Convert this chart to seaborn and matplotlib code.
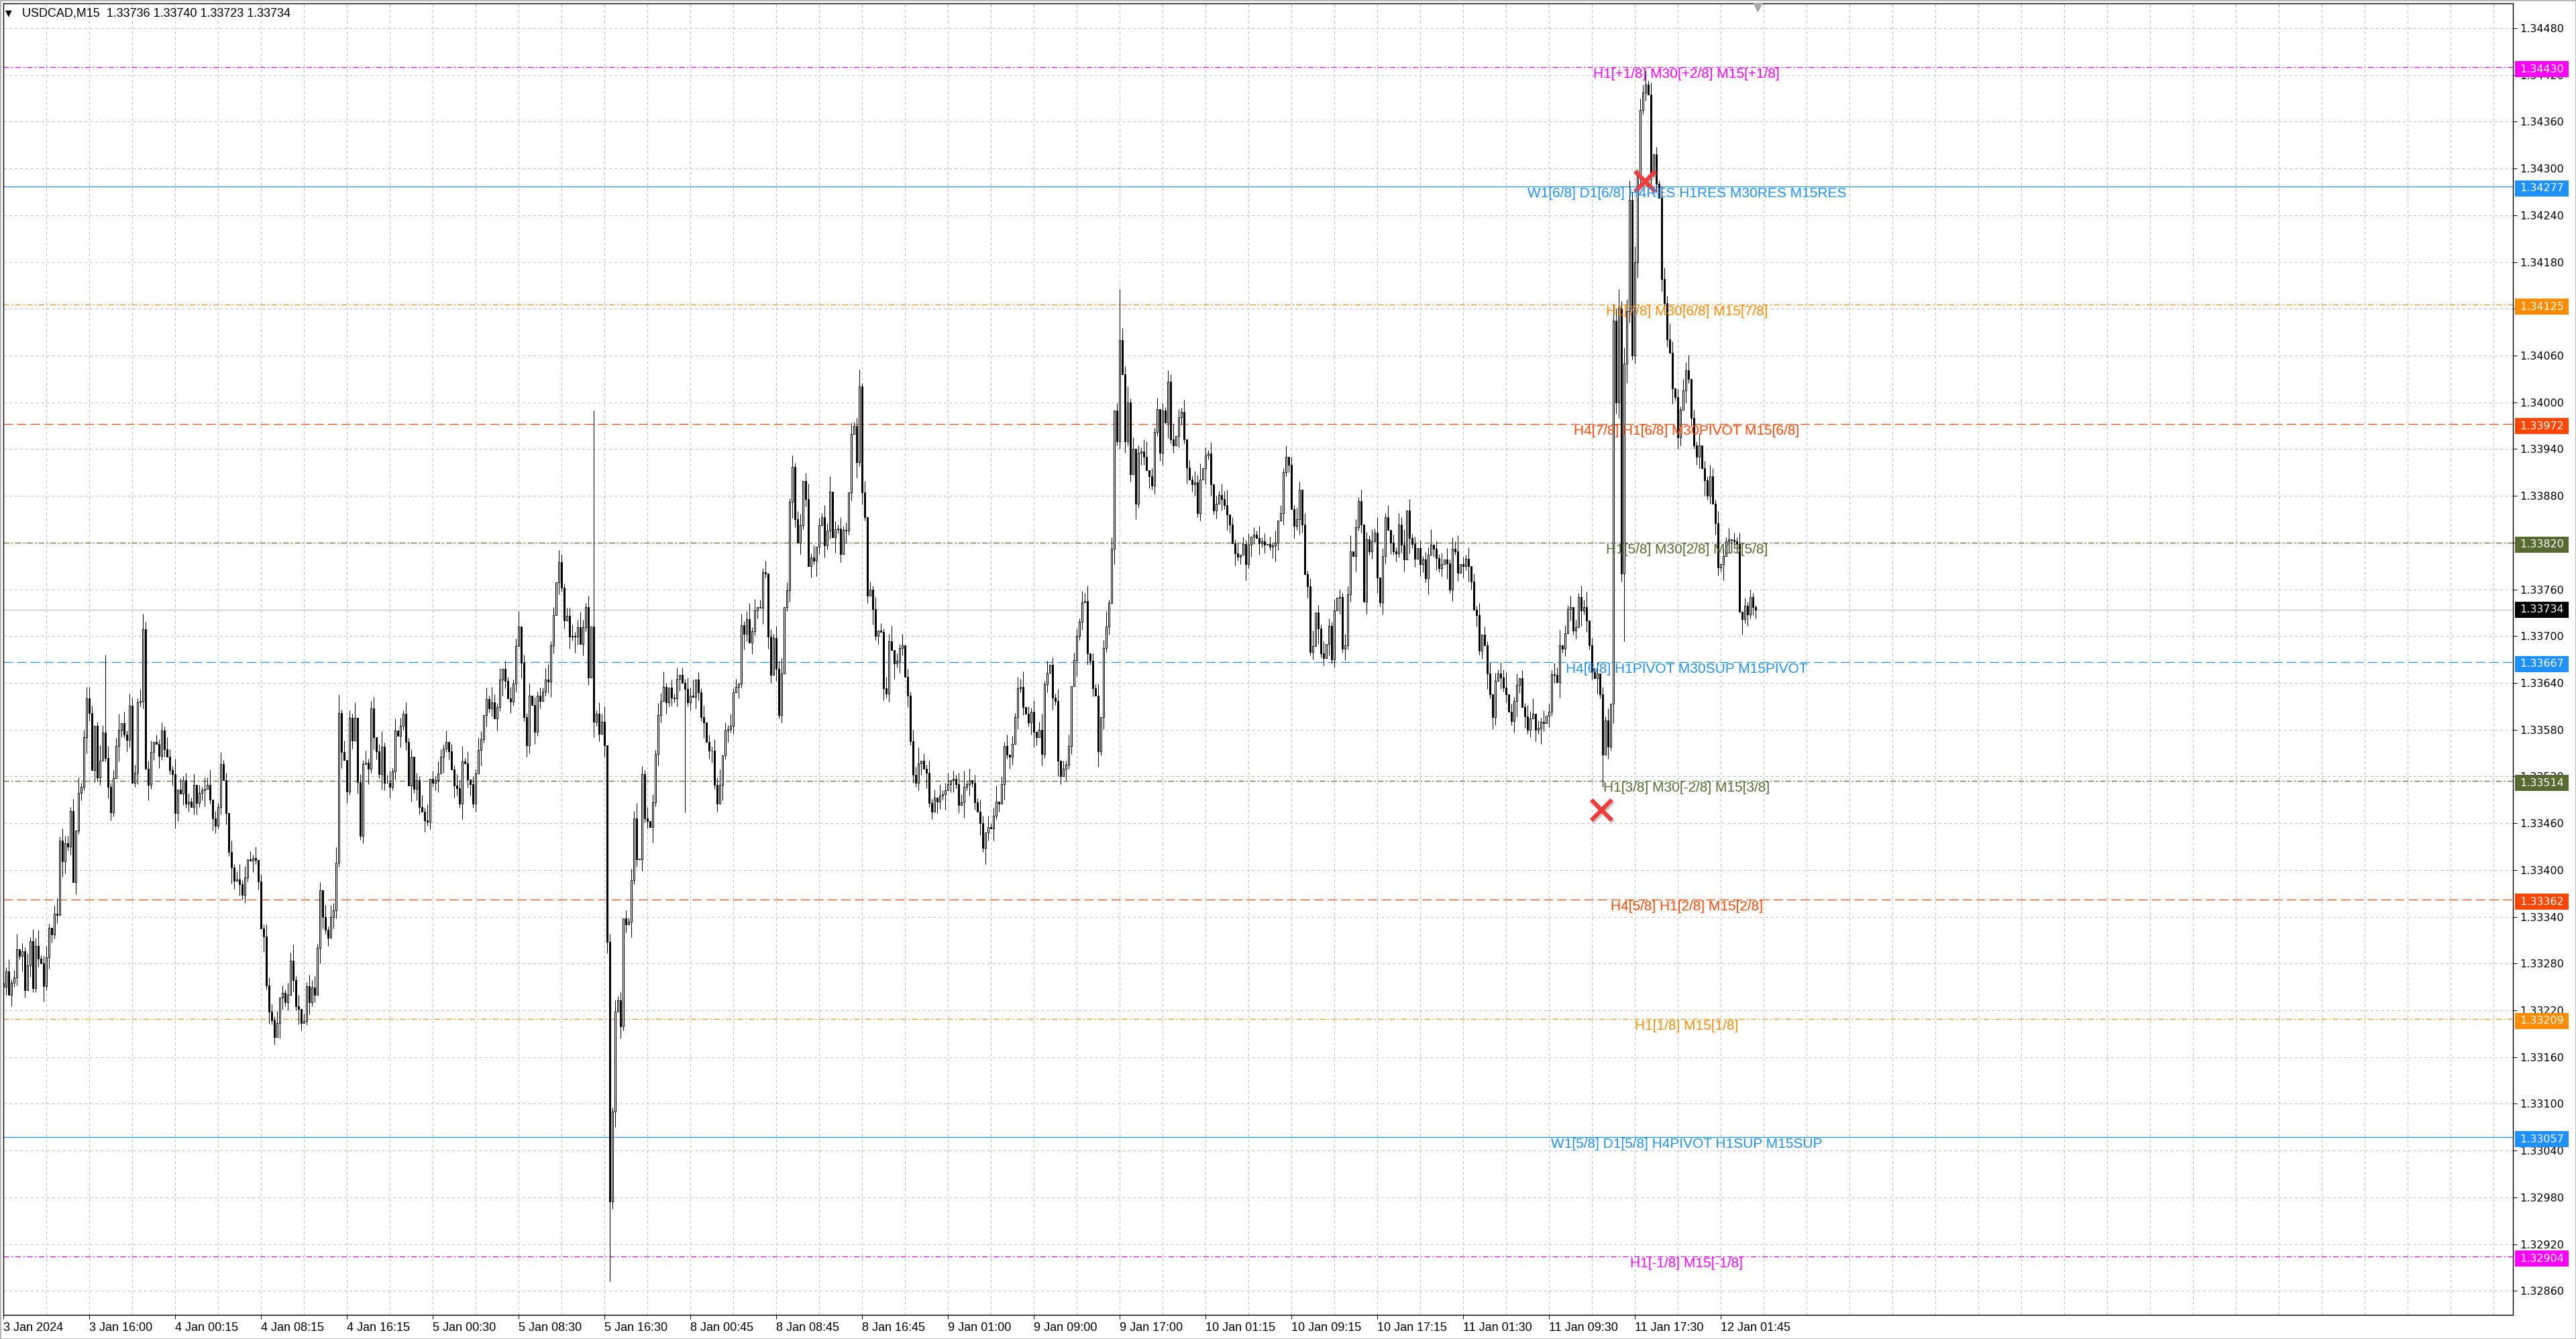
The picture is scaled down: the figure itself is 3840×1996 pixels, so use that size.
import numpy as np
import pandas as pd
import matplotlib
matplotlib.use('Agg')
import matplotlib.pyplot as plt
import matplotlib.transforms as mtransforms
from matplotlib.patches import Rectangle
import seaborn as sns

sns.set_theme(style='white')
plt.rcParams['font.family'] = ['Liberation Sans', 'DejaVu Sans']
plt.rcParams['lines.scale_dashes'] = False

symbol = 'USDCAD,M15'
header_ohlc = [1.33736, 1.33740, 1.33723, 1.33734]
first_open = 1.33255

# M15 closes in points (0.00001) above 1.33000
close_pts = [
    250, 270, 240, 255, 262, 298, 290, 296, 246, 278,
    309, 248, 303, 286, 280, 251, 288, 326, 317, 344,
    342, 438, 411, 434, 430, 476, 384, 451, 499, 507,
    570, 620, 601, 528, 585, 519, 540, 576, 544, 507,
    474, 518, 559, 580, 588, 574, 567, 611, 512, 525,
    615, 617, 709, 530, 509, 551, 564, 562, 546, 579,
    555, 545, 528, 523, 473, 503, 498, 515, 485, 488,
    481, 509, 486, 499, 502, 504, 509, 490, 466, 457,
    481, 536, 515, 473, 423, 403, 386, 388, 382, 368,
    390, 414, 412, 415, 413, 385, 325, 315, 252, 218,
    207, 186, 204, 236, 242, 230, 240, 284, 259, 225,
    222, 204, 206, 251, 230, 249, 240, 300, 374, 340,
    323, 313, 340, 348, 409, 601, 551, 541, 501, 595,
    566, 595, 513, 444, 536, 538, 530, 607, 570, 552,
    523, 558, 512, 512, 507, 526, 579, 572, 585, 600,
    564, 508, 545, 504, 515, 481, 475, 464, 462, 517,
    512, 515, 524, 545, 556, 564, 552, 529, 508, 505,
    485, 539, 537, 516, 510, 485, 524, 554, 568, 599,
    619, 607, 615, 594, 609, 644, 658, 643, 620, 616,
    639, 687, 712, 666, 596, 560, 624, 612, 577, 624,
    617, 629, 644, 642, 688, 727, 769, 795, 762, 720,
    726, 699, 700, 699, 711, 690, 711, 737, 647, 712,
    590, 600, 575, 590, 560, 308, -25, 90, 218, 233,
    199, 338, 330, 334, 387, 466, 414, 414, 523, 466,
    463, 455, 487, 549, 599, 617, 635, 615, 634, 621,
    620, 645, 650, 640, 632, 615, 624, 622, 644, 628,
    596, 589, 564, 553, 553, 509, 485, 509, 547, 579,
    581, 585, 628, 635, 639, 714, 703, 722, 692, 706,
    733, 737, 736, 782, 780, 699, 650, 698, 658, 599,
    652, 737, 759, 872, 917, 850, 820, 842, 899, 876,
    790, 801, 797, 815, 842, 853, 816, 835, 885, 827,
    837, 838, 805, 836, 835, 884, 959, 970, 923, 1020,
    884, 853, 752, 760, 735, 700, 707, 705, 633, 626,
    693, 682, 665, 668, 685, 688, 648, 624, 565, 522,
    512, 537, 540, 530, 525, 486, 475, 493, 488, 495,
    497, 502, 510, 515, 517, 510, 483, 487, 507, 510,
    515, 512, 487, 475, 460, 428, 448, 455, 453, 470,
    488, 485, 510, 559, 548, 545, 562, 596, 633, 635,
    609, 600, 589, 603, 577, 570, 580, 549, 638, 653,
    663, 621, 617, 540, 520, 530, 535, 559, 636, 669,
    700, 718, 743, 745, 678, 668, 633, 624, 552, 596,
    685, 712, 742, 812, 989, 950, 1080, 1036, 950, 1000,
    908, 940, 870, 935, 937, 930, 913, 905, 893, 962,
    991, 935, 989, 974, 1026, 952, 945, 957, 981, 988,
    952, 916, 901, 895, 897, 858, 901, 915, 932, 934,
    895, 861, 870, 881, 876, 868, 856, 843, 819, 806,
    802, 804, 818, 792, 817, 828, 830, 826, 819, 822,
    817, 818, 815, 816, 820, 848, 858, 910, 930, 920,
    863, 841, 850, 888, 843, 779, 764, 680, 687, 730,
    710, 678, 672, 690, 713, 670, 733, 749, 750, 684,
    688, 754, 809, 803, 840, 873, 843, 744, 824, 809,
    822, 833, 775, 743, 803, 853, 836, 820, 809, 806,
    843, 817, 798, 861, 826, 818, 799, 813, 792, 798,
    774, 804, 817, 812, 800, 787, 792, 798, 793, 760,
    812, 809, 781, 792, 790, 799, 790, 770, 734, 727,
    681, 702, 688, 652, 625, 596, 643, 652, 647, 634,
    625, 603, 591, 617, 637, 646, 609, 597, 580, 594,
    600, 580, 582, 590, 588, 598, 603, 651, 650, 641,
    688, 684, 704, 735, 737, 707, 711, 750, 733, 737,
    720, 688, 654, 646, 652, 625, 548, 592, 558, 613,
    1105, 1000, 1120, 780, 1050, 1117, 1260, 1060, 1180, 1293,
    1375, 1397, 1408, 1395, 1295, 1318, 1280, 1262, 1158, 1127,
    1081, 1063, 1018, 1007, 955, 990, 1015, 1041, 1030, 980,
    945, 930, 945, 915, 900, 880, 905, 870, 845, 788,
    792, 803, 822, 824, 823, 822, 818, 731, 722, 739,
    728, 750, 737, 734,
]

# wick lengths per bar, one digit per bar, in units of 5 points
up_wick_digits = """
2131240213 1324123102 4132213041 2332014213 1224031322
1341230212 1321403122 1302132402 1312031241 3021302132
2130213241 3021323120 3132421302 1402131230 2412313021
3120213140 2132130213 2413021320 3142130213 1240213021
2134120321 2231242130 2132402131 2021324021 3021324102
1302132402 1302132402 1312031241 3021302132 4021312302
4130213240 2131203124 1302130213 2402130213 2402131203
1230213241 3021320312 4021302132 4021302413 0213021302
2132402130 2413021324 1302134021 3021324021 3021324021
3021324021 3021302131 2021302130 2132031240 2130213021
3240213021 3140213021 3240312021 2240213031 3240213021
3021302132 4021302132 4021302132 4021302132 4021302130
4352435241 3241302133 2430213240 2130213213 0213021302
1210213021
"""
dn_wick_digits = """
1203121420 3112041321 2043120312 1420312013 2104213201
3120412031 2013420312 0231240132 1203142031 2103120413
1204312031 4201312043 1203214031 2031204132 1420312031
2041320312 1230412032 1402312041 3120314203 1204132031
2013420312 0314203120 4120331240 3120412031 2041320312
1230412032 1402312041 3120314203 1204132031 2013420312
0314203120 4120312041 3120412031 2041320312 1230412032
1402312041 3120314203 1204132031 2013420312 0314203120
4120312041 3120412031 2041320312 1230412032 1402312041
3120314203 1204132031 2013420312 0314203120 4120312041
3120412031 2041320312 1230412032 1402312041 3120314203
1204132031 2013420312 0314203120 4120312041 3120412031
5342453124 3120412031 2041320312 1230412032 1402312041
3120314203
"""
# extreme wicks (bar index -> points above 1.33000)
high_fix = {38: 676, 53: 718, 125: 625, 220: 989, 319: 1042, 416: 1145, 612: 1426, 653: 740}
low_fix = {226: -128, 254: 474, 596: 507, 604: 693, 653: 723}

# Murrey-math style levels
levels = [1.34430, 1.34277, 1.34125, 1.33972, 1.33820, 1.33667,
          1.33514, 1.33362, 1.33209, 1.33057, 1.32904]
level_colors = ['#FF00FF', '#1E90FF', '#FF8C00', '#FF4500', '#556B2F', '#1E90FF',
                '#556B2F', '#FF4500', '#FF8C00', '#1E90FF', '#FF00FF']
level_styles = ['dashdot', 'solid', 'dashdot', 'dash', 'dashdot', 'dash',
                'dashdot', 'dash', 'dashdot', 'solid', 'dashdot']
level_texts = [
    'H1[+1/8] M30[+2/8] M15[+1/8]',
    'W1[6/8] D1[6/8] H4RES H1RES M30RES M15RES',
    'H1[7/8] M30[6/8] M15[7/8]',
    'H4[7/8] H1[6/8] M30PIVOT M15[6/8]',
    'H1[5/8] M30[2/8] M15[5/8]',
    'H4[6/8] H1PIVOT M30SUP M15PIVOT',
    'H1[3/8] M30[-2/8] M15[3/8]',
    'H4[5/8] H1[2/8] M15[2/8]',
    'H1[1/8] M15[1/8]',
    'W1[5/8] D1[5/8] H4PIVOT H1SUP M15SUP',
    'H1[-1/8] M15[-1/8]',
]
bid_price = 1.33734

# red crosses (signal arrows): bar index, price
signal_x = [611.9, 595.6]
signal_y = [1.34284, 1.33477]

yticks = [1.32860, 1.32920, 1.32980, 1.33040, 1.33100, 1.33160, 1.33220,
          1.33280, 1.33340, 1.33400, 1.33460, 1.33520, 1.33580, 1.33640,
          1.33700, 1.33760, 1.33820, 1.33880, 1.33940, 1.34000, 1.34060,
          1.34120, 1.34180, 1.34240, 1.34300, 1.34360, 1.34420, 1.34480]
xlabels = ['3 Jan 2024', '3 Jan 16:00', '4 Jan 00:15', '4 Jan 08:15', '4 Jan 16:15',
           '5 Jan 00:30', '5 Jan 08:30', '5 Jan 16:30', '8 Jan 00:45', '8 Jan 08:45',
           '8 Jan 16:45', '9 Jan 01:00', '9 Jan 09:00', '9 Jan 17:00', '10 Jan 01:15',
           '10 Jan 09:15', '10 Jan 17:15', '11 Jan 01:30', '11 Jan 09:30', '11 Jan 17:30',
           '12 Jan 01:45']
bars_per_label = 32

# ---- build OHLC ----
n = len(close_pts)
close = 1.33 + np.array(close_pts) / 1e5
opn = np.r_[first_open, close[:-1]]
up_w = np.array([int(ch) for ch in up_wick_digits if ch.isdigit()])
dn_w = np.array([int(ch) for ch in dn_wick_digits if ch.isdigit()])
up_w = np.resize(up_w, n)
dn_w = np.resize(dn_w, n)
high = np.maximum(opn, close) + up_w * 5e-5
low = np.minimum(opn, close) - dn_w * 5e-5
for i, v in high_fix.items():
    high[i] = 1.33 + v / 1e5
for i, v in low_fix.items():
    low[i] = 1.33 + v / 1e5
df = pd.DataFrame({'open': opn, 'high': high, 'low': low, 'close': close})
df['bar'] = np.arange(n)
df['bull'] = df['close'] >= df['open']

# ---- figure ----
W, H = 3840, 1996
fig = plt.figure(figsize=(W / 100, H / 100), dpi=100)
fig.patch.set_facecolor('white')
ax_l, ax_r, ax_t, ax_b = 5, 3746, 5, 1960
ax = fig.add_axes([ax_l / W, (H - ax_b) / H, (ax_r - ax_l) / W, (ax_b - ax_t) / H])
ax.set_facecolor('white')
px_w = ax_r - ax_l
x0 = 0.125
ax.set_xlim(x0, x0 + px_w / 4)
ax.set_ylim(1.328293, 1.345118)
ax.set_axisbelow(True)

# grid
grid_kw = dict(color='#C0C0C0', linestyle=(0, (2.9, 2.9)), linewidth=0.75)
ax.set_xticks(np.arange(len(xlabels)) * bars_per_label)
ax.set_xticks(np.arange(0, 936, 16), minor=True)
ax.grid(True, which='both', axis='x', **grid_kw)
ax.set_yticks(yticks)
ax.grid(True, which='major', axis='y', **grid_kw)

# levels
dash_map = {'solid': '-', 'dash': (0, (10, 4.5)), 'dashdot': (0, (6, 2.5, 1.5, 2.5))}
ax.axhline(bid_price, color='#C0C0C0', lw=0.9, zorder=1.6)
label_bar = 627.4
txt_off = mtransforms.offset_copy(ax.transData, fig=fig, x=0, y=-1, units='dots')
for lvl, col, st, txt in zip(levels, level_colors, level_styles, level_texts):
    ax.axhline(lvl, color=col, linestyle=dash_map[st], lw=0.9, zorder=1.7)
    ax.text(label_bar, lvl, txt, color=col, ha='center', va='top', fontsize=15,
            transform=txt_off, zorder=8)

# candles
x = df['bar'].values
lo_b = np.minimum(df['open'], df['close']).values
hi_b = np.maximum(df['open'], df['close']).values
hgt = np.maximum(hi_b - lo_b, 0.15e-5)
bull = df['bull'].values
ax.vlines(x, df['low'], df['high'], colors='black', linewidth=0.75, zorder=3)
ax.bar(x[bull], hgt[bull], bottom=lo_b[bull], width=0.55, color='white',
       edgecolor='black', linewidth=0.75, zorder=4)
ax.bar(x[~bull], hgt[~bull], bottom=lo_b[~bull], width=0.55, color='black',
       edgecolor='black', linewidth=0.75, zorder=4)

# signal crosses with soft shadow
shadow = ax.transData + mtransforms.ScaledTranslation(2 / 100, -3 / 100, fig.dpi_scale_trans)
ax.scatter(signal_x, signal_y, marker='x', s=22 ** 2, linewidths=4.5, color='#707070',
           alpha=0.35, transform=shadow, zorder=6)
sns.scatterplot(x=signal_x, y=signal_y, marker='x', s=22 ** 2, linewidth=4.5,
                color='#F23C3C', ax=ax, zorder=7, legend=False)

# axes styling
ax.yaxis.tick_right()
ax.set_yticklabels([f'{v:.5f}' for v in yticks], fontfamily='DejaVu Sans', fontsize=11.5)
ax.set_xticklabels(xlabels, ha='left', fontsize=13)
ax.tick_params(axis='y', which='both', left=False, right=True, labelleft=False,
               labelright=True, direction='out', length=4, width=0.75, pad=3.5, colors='black')
ax.tick_params(axis='x', which='major', bottom=True, direction='out', length=4,
               width=0.75, pad=4, colors='black')
ax.tick_params(axis='x', which='minor', length=0)
ax.set_xlabel('')
ax.set_ylabel('')
for s in ax.spines.values():
    s.set_color('black')
    s.set_linewidth(1.0)

# price boxes on the right scale
trans = mtransforms.blended_transform_factory(ax.transAxes, ax.transData)
pt_per_px = 1e-5 / 1.162
box_x = (3749 - ax_l) / px_w
box_w = 80 / px_w
box_h = 24 * pt_per_px
box_items = list(zip(levels, level_colors, [3] * len(levels))) + [(bid_price, 'black', 0)]
for lvl, col, dy in box_items:
    yc = lvl - dy * pt_per_px
    ax.add_patch(Rectangle((box_x, yc - box_h / 2), box_w, box_h, transform=trans,
                           facecolor=col, edgecolor='none', clip_on=False, zorder=10))
    ax.text(box_x + 7 / px_w, yc, f'{lvl:.5f}', transform=trans, color='white',
            ha='left', va='center', fontsize=11.5, fontfamily='DejaVu Sans',
            clip_on=False, zorder=11)

# chart shift marker at the top
top_trans = mtransforms.blended_transform_factory(ax.transData, ax.transAxes)
ax.plot([n - 0.1], [1 - 6 / (ax_b - ax_t)], marker='v', ms=8, color='#A8A8A8',
        transform=top_trans, clip_on=False, zorder=9)

# header
fig.text(8 / W, 1 - 20 / H, '\u25BC', fontsize=9, fontfamily='DejaVu Sans',
         va='center', ha='left', color='black')
fig.text(33 / W, 1 - 20 / H, symbol + '  ' + ' '.join(f'{v:.5f}' for v in header_ohlc),
         fontsize=13, va='center', ha='left', color='black')

fig.patches.append(Rectangle((0, 0), 1, 1, transform=fig.transFigure, fill=False,
                             edgecolor='#B4B4B4', linewidth=2))

fig.savefig('out.png', dpi=100, facecolor='white')
